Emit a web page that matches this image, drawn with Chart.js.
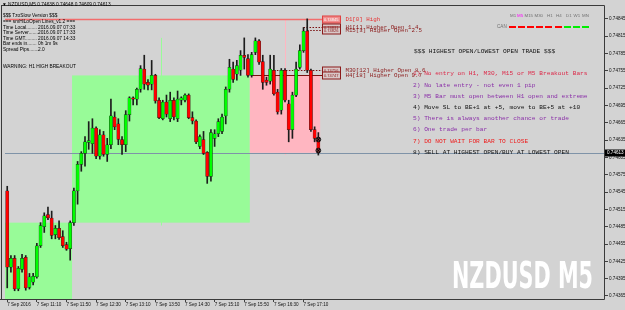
<!DOCTYPE html>
<html>
<head>
<meta charset="utf-8">
<script src="https://cdn.jsdelivr.net/npm/chart.js@4.4.1/dist/chart.umd.min.js"></script>
<style>
html,body{margin:0;padding:0;background:#d3d3d3;overflow:hidden;}
#wrap{position:relative;width:625px;height:310px;overflow:hidden;background:#d3d3d3;}
#c{position:absolute;left:0;top:0;width:625px;height:310px;}
.t{position:absolute;white-space:nowrap;font-family:"Liberation Sans",Arial,sans-serif;margin:0;padding:0;}
.m{font-family:"Liberation Mono","Courier New",monospace;}
</style>
</head>
<body>
<div id="wrap"><canvas id="c" width="625" height="310"></canvas></div>
<script>
// ---------------- DATA ----------------
const barTimes = ["10:30","10:35","10:40","10:45","10:50","10:55","11:00","11:05","11:10","11:15",
"11:20","11:25","11:30","11:35","11:40","11:45","11:50","11:55","12:00","12:05",
"12:10","12:15","12:20","12:25","12:30","12:35","12:40","12:45","12:50","12:55",
"13:00","13:05","13:10","13:15","13:20","13:25","13:30","13:35","13:40","13:45",
"13:50","13:55","14:00","14:05","14:10","14:15","14:20","14:25","14:30","14:35",
"14:40","14:45","14:50","14:55","15:00","15:05","15:10","15:15","15:20","15:25",
"15:30","15:35","15:40","15:45","15:50","15:55","16:00","16:05","16:10","16:15",
"16:20","16:25","16:30","16:35","16:40","16:45","16:50","16:55","17:00","17:05",
"17:10","17:15","17:20","17:25","17:30"];

const opens = [0.74547,0.74415,0.74430,0.74377,0.74411,0.74432,0.74380,0.74389,0.74398,0.74452,
0.74485,0.74506,0.74500,0.74471,0.74482,0.74468,0.74454,0.74447,0.74492,0.74547,
0.74593,0.74612,0.74631,0.74629,0.74656,0.74607,0.74644,0.74610,0.74627,0.74675,
0.74663,0.74636,0.74627,0.74679,0.74708,0.74706,0.74723,0.74758,0.74735,0.74732,
0.74747,0.74704,0.74672,0.74701,0.74672,0.74704,0.74672,0.74704,0.74704,0.74713,
0.74674,0.74668,0.74624,0.74636,0.74614,0.74572,0.74638,0.74646,0.74650,0.74677,
0.74723,0.74758,0.74749,0.74756,0.74782,0.74776,0.74747,0.74787,0.74807,0.74771,
0.74739,0.74737,0.74756,0.74718,0.74687,0.74756,0.74698,0.74653,0.74713,0.74761,
0.74790,0.74824,0.74756,0.74653,0.74638];

const highs = [0.74555,0.74435,0.74435,0.74416,0.74437,0.74435,0.74404,0.74404,0.74456,0.74492,
0.74509,0.74519,0.74512,0.74487,0.74495,0.74478,0.74458,0.74495,0.74552,0.74598,
0.74615,0.74641,0.74667,0.74672,0.74658,0.74653,0.74650,0.74638,0.74706,0.74684,
0.74672,0.74641,0.74686,0.74710,0.74710,0.74725,0.74764,0.74782,0.74740,0.74773,
0.74749,0.74708,0.74704,0.74713,0.74718,0.74708,0.74720,0.74710,0.74715,0.74715,
0.74684,0.74670,0.74644,0.74650,0.74615,0.74653,0.74653,0.74672,0.74680,0.74727,
0.74775,0.74770,0.74773,0.74790,0.74812,0.74783,0.74787,0.74812,0.74809,0.74782,
0.74744,0.74782,0.74782,0.74723,0.74759,0.74759,0.74704,0.74718,0.74770,0.74800,
0.74830,0.74845,0.74758,0.74658,0.74648];

const lows = [0.74379,0.74406,0.74374,0.74374,0.74406,0.74375,0.74377,0.74384,0.74396,0.74449,
0.74475,0.74497,0.74464,0.74464,0.74463,0.74449,0.74444,0.74427,0.74487,0.74524,
0.74581,0.74590,0.74619,0.74612,0.74603,0.74602,0.74607,0.74598,0.74620,0.74653,
0.74627,0.74610,0.74615,0.74668,0.74696,0.74696,0.74718,0.74723,0.74722,0.74722,
0.74699,0.74672,0.74670,0.74675,0.74667,0.74670,0.74667,0.74696,0.74701,0.74672,
0.74663,0.74629,0.74620,0.74610,0.74560,0.74564,0.74624,0.74641,0.74646,0.74663,
0.74718,0.74735,0.74739,0.74747,0.74758,0.74744,0.74744,0.74783,0.74766,0.74723,
0.74730,0.74732,0.74713,0.74680,0.74680,0.74701,0.74632,0.74638,0.74710,0.74758,
0.74787,0.74752,0.74650,0.74632,0.74609];

const closes = [0.74415,0.74430,0.74377,0.74413,0.74430,0.74379,0.74398,0.74399,0.74452,0.74487,
0.74504,0.74500,0.74470,0.74482,0.74466,0.74452,0.74446,0.74492,0.74547,0.74593,
0.74612,0.74632,0.74634,0.74656,0.74607,0.74644,0.74610,0.74627,0.74677,0.74658,
0.74636,0.74627,0.74679,0.74708,0.74706,0.74723,0.74759,0.74732,0.74730,0.74747,
0.74703,0.74674,0.74701,0.74680,0.74704,0.74675,0.74706,0.74708,0.74713,0.74674,
0.74668,0.74632,0.74641,0.74612,0.74572,0.74648,0.74646,0.74667,0.74675,0.74723,
0.74761,0.74740,0.74764,0.74782,0.74778,0.74747,0.74783,0.74807,0.74770,0.74735,
0.74735,0.74758,0.74715,0.74684,0.74756,0.74704,0.74653,0.74713,0.74758,0.74790,
0.74824,0.74756,0.74653,0.74638,0.74613];

// H4 candles drawn as boxes
const h4Start = ["08:00","12:00","16:00"];
const h4End   = ["11:55","15:55","17:30"];
const h4Open  = [0.74340,0.74492,0.74747];
const h4High  = [0.74525,0.74812,0.74845];
const h4Low   = [0.74330,0.74487,0.74609];
const h4Close = [0.74492,0.74747,0.74613];

// level lines
const levelNames  = ["D1[0] High","H1[1] Higher Open 1.4","M15[3] Higher Open 2.5","M30[12] Higher Open 8.6","H4[18] Higher Open 9.7"];
const levelPrices = [0.74845,0.74831,0.74826,0.74756,0.74747];
const levelStart  = ["00:00","17:10","17:15","16:30","16:00"];

const markerPrices = [0.74636,0.74617];

const yTickValues = [0.74365,0.74395,0.74425,0.74455,0.74485,0.74515,0.74545,0.74575,0.74605,0.74635,0.74665,0.74695,0.74725,0.74755,0.74785,0.74815,0.74845];
const xTickTimes  = ["10:30","11:10","11:50","12:30","13:10","13:50","14:30","15:10","15:50","16:30","17:10"];
const xTickLabels = ["7 Sep 2016","7 Sep 11:10","7 Sep 11:50","7 Sep 12:30","7 Sep 13:10","7 Sep 13:50","7 Sep 14:30","7 Sep 15:10","7 Sep 15:50","7 Sep 16:30","7 Sep 17:10"];

const infoLabels = ["Time Local........","Time Server.......","Time GMT.........","Bar ends in.......","Spread Pips......."];
const infoValues = ["2016.09.07 07:33","2016.09.07 17:33","2016.09.07 14:33","0h 1m 9s","2.0"];

const rules = ["1) No entry on H1, M30, M15 or M5 Breakout Bars",
"2) No late entry - not even 1 pip",
"3) M5 Bar must open between H1 open and extreme",
"4) Move SL to BE+1 at +5, move to BE+5 at +10",
"5) There is always another chance or trade",
"6) One trade per bar",
"7) DO NOT WAIT FOR BAR TO CLOSE",
"8) SELL AT HIGHEST OPEN/BUY AT LOWEST OPEN"];
const ruleColors = ["#dc2848","#8a2fa8","#8a2fa8","#111111","#8a2fa8","#8a2fa8","#ee1c1c","#111111"];

const tfNames = ["M1","M5","M15","M30","H1","H4","D1","W1","MN"];
const tfTrend = ["down","down","down","down","down","down","up","up","up"];

// ---------------- helpers ----------------
const toMin = t => { const p = t.split(":"); return (+p[0])*60 + (+p[1]); };
const timeIdx = t => (toMin(t) - toMin(barTimes[0])) / 5;
const lastIdx = barTimes.length - 1;
const xMin = -0.6, xMax = 161.4, yMin = 0.74358, yMax = 0.74869;

const overlay = {
  id: 'overlay',
  beforeDatasetsDraw(chart) {
    const {ctx, chartArea: a, scales: {x, y}} = chart;
    ctx.save();
    ctx.beginPath(); ctx.rect(a.left, a.top, a.right - a.left, a.bottom - a.top); ctx.clip();
    for (let k = 0; k < h4Open.length; k++) {
      const s = timeIdx(h4Start[k]), e = timeIdx(h4End[k]);
      const x0 = x.getPixelForValue(s - 0.5), x1 = x.getPixelForValue(e + 0.5);
      const col = h4Close[k] >= h4Open[k] ? '#98fb98' : '#ffb6c1';
      const yt = y.getPixelForValue(Math.max(h4Open[k], h4Close[k]));
      const yb = y.getPixelForValue(Math.min(h4Open[k], h4Close[k]));
      ctx.fillStyle = col;
      ctx.fillRect(x0, yt, x1 - x0, yb - yt);
      const xm = Math.round(x.getPixelForValue((s + e) / 2)) + 0.5;
      ctx.strokeStyle = col; ctx.lineWidth = 1;
      ctx.beginPath();
      ctx.moveTo(xm, y.getPixelForValue(h4High[k]));
      ctx.lineTo(xm, y.getPixelForValue(h4Low[k]));
      ctx.stroke();
    }
    const yc = Math.round(y.getPixelForValue(closes[lastIdx])) + 0.5;
    ctx.strokeStyle = '#7f93a8'; ctx.lineWidth = 1;
    ctx.beginPath(); ctx.moveTo(a.left, yc); ctx.lineTo(a.right, yc); ctx.stroke();
    const xLab = x.getPixelForValue(lastIdx + 1.1);
    levelPrices.forEach((p, k) => {
      const yy = Math.round(y.getPixelForValue(p)) + 0.5;
      const xs = Math.max(a.left, x.getPixelForValue(timeIdx(levelStart[k])));
      ctx.beginPath();
      if (k === 0) { ctx.strokeStyle = '#f26d6d'; ctx.lineWidth = 1.6; ctx.setLineDash([]); }
      else if (k === 4) { ctx.strokeStyle = '#7a1010'; ctx.lineWidth = 1; ctx.setLineDash([]); }
      else { ctx.strokeStyle = '#7a1010'; ctx.lineWidth = 1; ctx.setLineDash([1.5, 1.5]); }
      ctx.moveTo(k === 0 ? a.left : xs, yy); ctx.lineTo(xLab, yy); ctx.stroke();
      ctx.setLineDash([]);
      ctx.fillStyle = k === 0 ? '#f08c8c' : '#d8c8c8';
      ctx.fillRect(xLab, yy - 3.5, 18, 7);
      ctx.strokeStyle = k === 0 ? '#e04040' : '#8b1a1a'; ctx.lineWidth = 1;
      ctx.strokeRect(Math.round(xLab) + 0.5, yy - 3.5, 18, 7);
    });
    ctx.restore();
    ctx.save();
    ctx.strokeStyle = '#3a3a3a'; ctx.lineWidth = 1;
    ctx.beginPath();
    ctx.moveTo(1.5, a.top + 0.5); ctx.lineTo(a.right - 0.5, a.top + 0.5);
    ctx.lineTo(a.right - 0.5, a.bottom - 0.5); ctx.lineTo(0, a.bottom - 0.5);
    ctx.moveTo(1.5, a.top); ctx.lineTo(1.5, a.bottom);
    ctx.stroke();
    ctx.restore();
  },
  afterDraw(chart) {
    const {ctx, chartArea: a, scales: {y}} = chart;
    const yc = Math.round(y.getPixelForValue(closes[lastIdx]));
    ctx.save();
    ctx.fillStyle = '#000';
    ctx.fillRect(a.right, yc - 3.5, 20, 7);
    ctx.restore();
  }
};

const idx = barTimes.map((t, i) => i);
const chart = new Chart(document.getElementById('c'), {
  type: 'bar',
  data: {
    datasets: [
      { label: 'High-Low', data: idx.map(i => ({x: i, y: [lows[i], highs[i]]})),
        backgroundColor: '#1c1c1c', barThickness: 1, grouped: false, order: 3, borderWidth: 0 },
      { label: 'Open-Close', data: idx.map(i => ({x: i, y: [opens[i], closes[i]]})),
        backgroundColor: idx.map(i => closes[i] >= opens[i] ? '#00ff00' : '#ff0000'),
        borderColor: 'rgba(20,20,20,0.85)', borderWidth: 0.5, borderSkipped: false, barThickness: 3.2,
        minBarLength: 1, grouped: false, order: 2 },
      { type: 'scatter', label: 'Orders', data: markerPrices.map(p => ({x: lastIdx, y: p})),
        pointStyle: 'circle', radius: 2.4, backgroundColor: 'rgba(70,70,70,0.7)', borderColor: '#000', borderWidth: 0.8, order: 1 },
      { type: 'scatter', label: 'Orders X', data: markerPrices.map(p => ({x: lastIdx, y: p})),
        pointStyle: 'crossRot', radius: 2, borderColor: '#000', borderWidth: 1, order: 0 }
    ]
  },
  options: {
    responsive: false, animation: false, devicePixelRatio: 1,
    layout: { padding: { left: 0, right: 0, top: 2, bottom: 0 } },
    plugins: { legend: { display: false }, tooltip: { enabled: false } },
    scales: {
      x: {
        type: 'linear', min: xMin, max: xMax, offset: false, position: 'bottom',
        grid: { display: true, drawOnChartArea: false, drawTicks: true, tickLength: 2, color: '#404040', offset: false },
        border: { display: false },
        afterBuildTicks: s => { s.ticks = xTickTimes.map(t => ({value: timeIdx(t)})); },
        afterFit: s => { s.height = 10; },
        ticks: { autoSkip: false, maxRotation: 0, minRotation: 0, align: 'start', padding: 0, color: '#111',
          font: { family: 'Liberation Sans', size: 4.6 }, callback: (v, i) => xTickLabels[i] }
      },
      y: {
        type: 'linear', position: 'right', min: yMin, max: yMax,
        grid: { display: true, drawOnChartArea: false, drawTicks: true, tickLength: 3, color: '#404040' },
        border: { display: false },
        afterBuildTicks: s => { s.ticks = yTickValues.map(v => ({value: v})); },
        afterFit: s => { s.width = 20; },
        ticks: { autoSkip: false, padding: 1, color: '#111',
          font: { family: 'Liberation Sans', size: 4.6 }, callback: v => v.toFixed(5) }
      }
    }
  },
  plugins: [overlay]
});

// ---------------- texts ----------------
const wrap = document.getElementById('wrap');
function txt(s, x, yc, size, color, cls, extra) {
  const d = document.createElement('div');
  d.className = 't ' + (cls || '');
  d.textContent = s;
  d.style.left = x + 'px';
  d.style.fontSize = size + 'px';
  d.style.lineHeight = Math.ceil(size * 1.2) + 'px';
  d.style.top = (yc - Math.ceil(size * 1.2) / 2) + 'px';
  d.style.color = color;
  if (extra) Object.assign(d.style, extra);
  wrap.appendChild(d);
  return d;
}
const xs = chart.scales.x, ys = chart.scales.y;
const f5 = v => v.toFixed(5);

txt("\u25BC", 2, 5, 4.8, '#000');
txt("NZDUSD,M5  " + [opens[lastIdx], highs[lastIdx], lows[lastIdx], closes[lastIdx]].map(f5).join(" "), 8, 5, 4.8, '#000');

txt("$$$ TzoSlow Version $$$", 3, 16, 4.8, '#000');
txt("=== smHiLoOpen Lines_v1.2 ===", 3, 21.7, 4.8, '#000');
infoLabels.forEach((s, k) => {
  txt(s, 3, 27.5 + k * 5.6, 4.8, '#000');
  txt(infoValues[k], 38, 27.5 + k * 5.6, 4.8, '#000');
});
txt("WARNING: H1 HIGH BREAKOUT", 3, 67, 4.8, '#000');

const tfX = [510, 517, 524.5, 534.5, 547, 556, 566, 573.5, 582];
tfNames.forEach((n, k) => txt(n, tfX[k], 16, 4.4, n === 'M5' ? '#ff00ff' : '#707070'));
txt("CAN", 497, 27, 4.6, '#707070');
tfTrend.forEach((tr, k) => {
  const d = document.createElement('div');
  d.style.position = 'absolute';
  d.style.left = (508.5 + k * 9.2) + 'px';
  d.style.top = '26px';
  d.style.width = '7px';
  d.style.height = '2px';
  d.style.background = tr === 'up' ? '#00ee00' : '#ff0000';
  wrap.appendChild(d);
});

txt("$$$ HIGHEST OPEN/LOWEST OPEN TRADE $$$", 414, 51.7, 6.2, '#111', 'm');
rules.forEach((r, k) => txt(r, 413, 74.3 + k * 11.23, 6.2, ruleColors[k], 'm'));

const xLab = xs.getPixelForValue(lastIdx + 1.1);
levelPrices.forEach((p, k) => {
  const yy = Math.round(ys.getPixelForValue(p)) + 0.5;
  txt(f5(p), xLab + 1.5, yy, 4, k === 0 ? '#ffffff' : '#8b1a1a');
  txt(levelNames[k], xLab + 23, yy, 5.8, k === 0 ? '#e83030' : '#8b1a1a', 'm');
});

const ycur = Math.round(ys.getPixelForValue(closes[lastIdx]));
txt(f5(closes[lastIdx]), 607, ycur, 4.6, '#ffffff');

const big = txt("NZDUSD M5", 452, 275.5, 37, '#ffffff', '', {
  fontFamily: '"Liberation Sans Narrow","DejaVu Sans Condensed","Liberation Sans",sans-serif',
  fontWeight: 'bold', transformOrigin: '0 50%'
});
const bw = big.getBoundingClientRect().width;
big.style.transform = 'scaleX(' + (141 / bw) + ')';
</script>
</body>
</html>
